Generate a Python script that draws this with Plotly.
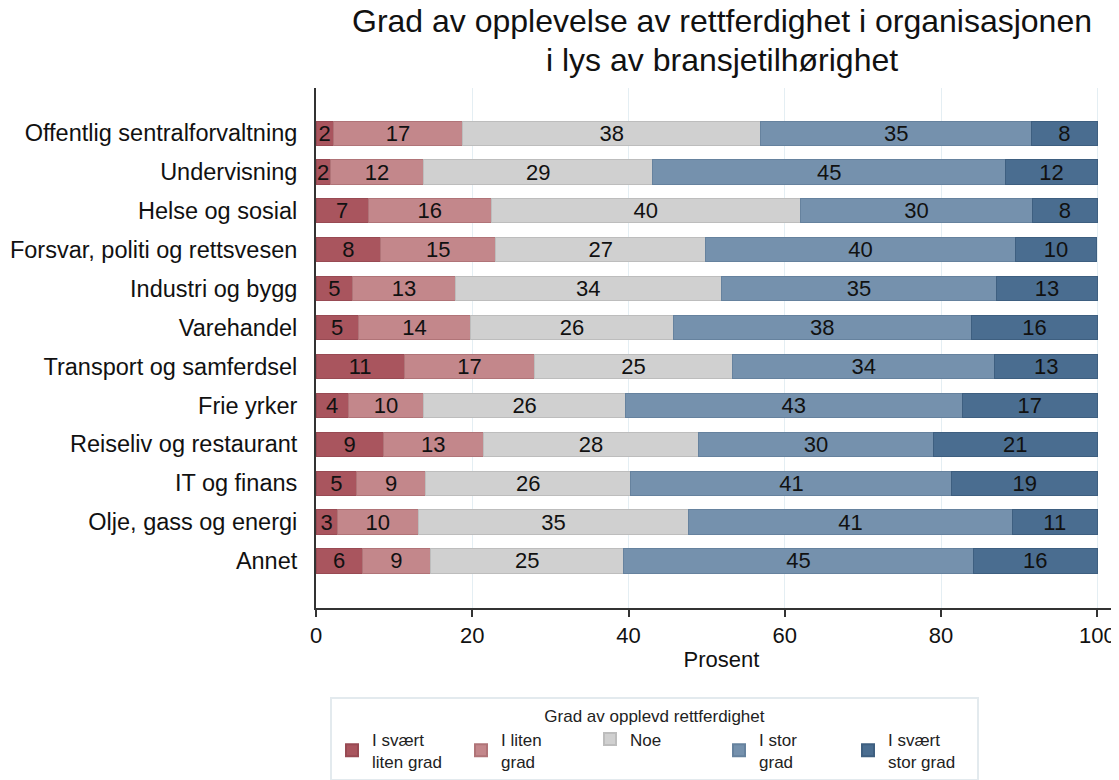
import plotly.graph_objects as go

categories = [
    "Offentlig sentralforvaltning", "Undervisning", "Helse og sosial",
    "Forsvar, politi og rettsvesen", "Industri og bygg", "Varehandel",
    "Transport og samferdsel", "Frie yrker", "Reiseliv og restaurant",
    "IT og finans", "Olje, gass og energi", "Annet",
]

svaert_liten = [2.2, 1.8, 6.7, 8.3, 4.7, 5.4, 11.3, 4.1, 8.6, 5.2, 2.7, 5.9]
liten = [16.6, 12.0, 15.7, 14.7, 13.1, 14.4, 16.7, 9.7, 12.8, 8.8, 10.4, 8.8]
noe = [38.1, 29.3, 39.6, 26.9, 34.1, 25.9, 25.3, 25.8, 27.6, 26.3, 34.6, 24.7]
stor = [34.7, 45.2, 29.7, 39.6, 35.2, 38.2, 33.6, 43.1, 30.0, 41.1, 41.4, 44.7]
svaert_stor = [8.4, 11.7, 8.3, 10.4, 12.9, 16.1, 13.1, 17.3, 21.0, 18.6, 10.9, 15.9]

series_names = ["I svært<br>liten grad", "I liten<br>grad", "Noe", "I stor<br>grad", "I svært<br>stor grad"]
series_values = [svaert_liten, liten, noe, stor, svaert_stor]
colors = ["#a9555e", "#c3878b", "#d0d0d0", "#7591ad", "#4a6d90"]
line_colors = ["#984a53", "#b07478", "#bdbdbd", "#66829e", "#3e5f80"]

x_ticks = [0, 20, 40, 60, 80, 100]

title_lines = ["Grad av opplevelse av rettferdighet i organisasjonen",
               "i lys av bransjetilhørighet"]

FONT = "Liberation Sans, Arial, sans-serif"

fig = go.Figure()
for name, vals, c, lc in zip(series_names, series_values, colors, line_colors):
    fig.add_trace(go.Bar(
        y=categories, x=vals, orientation="h", name=name,
        marker=dict(color=c, line=dict(color=lc, width=1)),
        text=[str(int(round(v))) for v in vals],
        textposition="inside", insidetextanchor="middle", textangle=0,
        constraintext="none",
        insidetextfont=dict(size=22, color="#111111", family=FONT),
        width=0.62,
    ))

fig.update_layout(
    barmode="stack",
    width=1119, height=780,
    margin=dict(l=308, r=0, t=80, b=180),
    plot_bgcolor="white", paper_bgcolor="white",
    font=dict(family=FONT, color="#111111"),
    uniformtext=dict(minsize=22, mode="show"),
    showlegend=True,
    legend=dict(
        orientation="h", x=0.0173, xanchor="left", y=-0.172, yanchor="top",
        bordercolor="#e3eaee", borderwidth=2,
        title=dict(text="Grad av opplevd rettferdighet", side="top center",
                   font=dict(size=17, color="#222222", family=FONT)),
        font=dict(size=17, color="#222222", family=FONT),
        traceorder="normal", entrywidth=84, entrywidthmode="pixels",
        itemsizing="constant",
    ),
)

for txt, yy in zip(title_lines, [1.1298, 1.0529]):
    fig.add_annotation(
        text=txt, xref="paper", yref="paper", x=0.5006, y=yy,
        xanchor="center", yanchor="middle", showarrow=False,
        font=dict(size=32, color="#111111", family=FONT),
    )

fig.update_xaxes(
    range=[0, 103.8], tickvals=x_ticks, ticktext=[str(t) for t in x_ticks],
    automargin=False,
    showgrid=True, gridcolor="#e4eef3", gridwidth=1,
    showline=True, linecolor="#333333", linewidth=2,
    ticks="outside", ticklen=7, tickwidth=1.5, tickcolor="#333333",
    tickfont=dict(size=22, color="#111111"),
    title=dict(text="Prosent", font=dict(size=22, color="#111111"), standoff=4),
    zeroline=False,
)
fig.update_yaxes(
    categoryorder="array", categoryarray=categories,
    range=[12.21, -1.16], automargin=False,
    showline=True, linecolor="#333333", linewidth=2,
    ticks="", ticklabelstandoff=12,
    tickfont=dict(size=23.5, color="#111111"),
    showgrid=False,
)

fig.write_html("out.html")
